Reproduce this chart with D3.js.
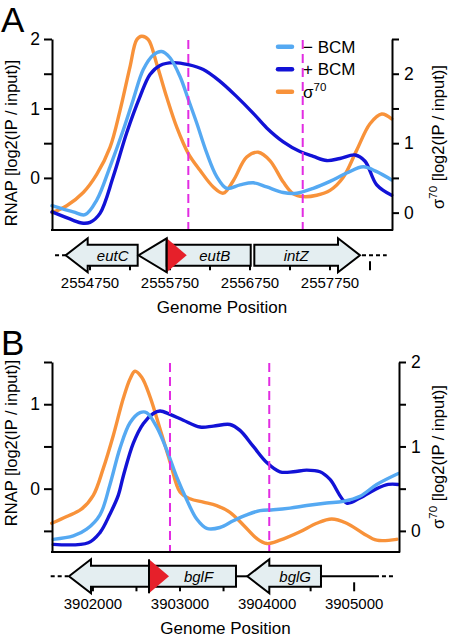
<!DOCTYPE html>
<html><head><meta charset="utf-8">
<script src="https://cdn.jsdelivr.net/npm/d3@7"></script>
<style>
body{margin:0;background:#fff}
svg{display:block;font-family:"Liberation Sans",Arial,Helvetica,sans-serif}
</style>
</head><body>
<svg id="c" width="453" height="642"></svg>
<script>
// ---------- Panel A data (genome position, log2 ratio) ----------
const aPosMinus = [2554275,2554541,2554688,2554834,2555000,2555166,2555291,2555416,2555541,2555646,2555750,2555875,2555979,2556084,2556209,2556334,2556459,2556625,2556791,2556959,2557166,2557334,2557541,2557750,2557959,2558166,2558334,2558521];
const aMinusBCM = [-0.40,-0.49,-0.53,-0.32,0.16,0.69,1.13,1.56,1.77,1.82,1.73,1.46,1.13,0.79,0.36,0.02,-0.15,-0.10,-0.07,-0.13,-0.21,-0.22,-0.15,-0.05,0.07,0.16,0.09,-0.03];
const aPosPlus = [2554275,2554541,2554646,2554750,2554875,2555041,2555209,2555375,2555500,2555625,2555791,2555979,2556166,2556375,2556584,2556791,2556959,2557166,2557375,2557541,2557709,2557875,2558063,2558188,2558334,2558521];
const aPlusBCM = [-0.49,-0.61,-0.65,-0.64,-0.51,0.02,0.65,1.17,1.49,1.62,1.66,1.63,1.56,1.39,1.17,0.93,0.72,0.52,0.38,0.31,0.25,0.28,0.33,0.24,-0.10,-0.25];
const aPosSigma = [2554275,2554459,2554666,2554834,2555000,2555125,2555250,2555334,2555396,2555479,2555584,2555709,2555834,2555979,2556125,2556291,2556416,2556541,2556709,2556854,2556999,2557166,2557291,2557416,2557584,2557750,2557916,2558084,2558250,2558396,2558521];
const aSigma70 = [0.00,0.10,0.29,0.55,0.94,1.47,2.10,2.49,2.54,2.49,2.14,1.66,1.23,0.85,0.61,0.37,0.28,0.46,0.80,0.87,0.75,0.44,0.27,0.23,0.25,0.32,0.51,0.90,1.28,1.42,1.35];
const aMarkers = [2555979, 2557409];
const aTickLabels = [2554750, 2555750, 2556750, 2557750];
const aTicks = [2554750,2555250,2555750,2556250,2556750,2557250,2557750,2558250];
const aGenes = [
  {name:"eutC", start:2554446, end:2555346, dir:-1},
  {name:"",     start:2555356, end:2555709, dir:-1},
  {name:"eutB", start:2555709, end:2556759, dir:0},
  {name:"intZ", start:2556804, end:2558125, dir:1}
];
const aPromoters = [2555709];
const aSolid = [];
const aDotted = [[2554313,2554459],[2558150,2558459]];

// ---------- Panel B data ----------
const bPosMinus = [3901545,3901775,3901928,3902081,3902196,3902311,3902426,3902541,3902618,3902732,3902847,3902962,3903077,3903192,3903307,3903459,3903612,3903766,3903919,3904071,3904263,3904455,3904685,3904875,3905067,3905259,3905507];
const bMinusBCM = [-0.60,-0.56,-0.48,-0.31,0.05,0.48,0.78,0.90,0.90,0.73,0.46,0.14,-0.13,-0.36,-0.47,-0.46,-0.38,-0.31,-0.26,-0.25,-0.23,-0.20,-0.17,-0.15,-0.09,0.05,0.18];
const bPosPlus = [3901545,3901947,3902081,3902196,3902291,3902349,3902464,3902578,3902693,3902770,3902885,3903038,3903230,3903382,3903574,3903689,3903842,3903996,3904148,3904301,3904455,3904608,3904723,3904914,3905067,3905259,3905392,3905507];
const bPlusBCM = [-0.66,-0.64,-0.52,-0.30,-0.08,0.15,0.54,0.77,0.89,0.92,0.88,0.81,0.73,0.74,0.76,0.69,0.50,0.31,0.20,0.20,0.22,0.20,0.11,-0.17,-0.11,0.00,0.05,0.05];
const bPosSigma = [3901527,3901699,3901871,3902004,3902119,3902234,3902349,3902426,3902483,3902560,3902655,3902770,3902885,3903000,3903115,3903268,3903421,3903574,3903727,3903881,3903996,3904148,3904378,3904570,3904742,3904914,3905105,3905259,3905489];
const bSigma70 = [0.09,0.17,0.26,0.42,0.74,1.13,1.57,1.80,1.89,1.82,1.59,1.21,0.82,0.46,0.38,0.34,0.30,0.22,0.07,-0.09,-0.15,-0.11,-0.01,0.09,0.14,0.09,-0.03,-0.11,-0.10];
const bMarkers = [3902885, 3904025];
const bTickLabels = [3902000, 3903000, 3904000, 3905000];
const bTicks = [3902000,3902500,3903000,3903500,3904000,3904500,3905000];
const bGenes = [
  {name:"",     start:3901725, end:3902644, dir:-1},
  {name:"bglF", start:3902644, end:3903643, dir:0},
  {name:"bglG", start:3903773, end:3904619, dir:-1}
];
const bPromoters = [3902644];
const bSolid = [[3903643,3903773],[3904619,3905239]];
const bDotted = [[3901515,3901717],[3905239,3905446]];

const leftTicksA = [0,0.5,1,1.5,2], rightTicksA = [0,0.5,1,1.5,2,2.5];
const leftTicksB = [-0.5,0,0.5,1,1.5], rightTicksB = [0,0.5,1,1.5,2];
const legendLabels = ["\u2212 BCM", "+ BCM", "σ"];

// ---------- styles ----------
const COL = {minus:"#55a9f2", plus:"#1212d6", sigma:"#f8923a", marker:"#e22ce2",
             gene:"#e4eef1", prom:"#e6202a"};
const svg = d3.select("#c");

function panel(cfg) {
  const g = svg.append("g");
  const x = d3.scaleLinear().domain(cfg.xDomain).range([cfg.left, cfg.right]);
  const yL = d3.scaleLinear().domain(cfg.yLDomain).range([cfg.bottom, cfg.top]);
  const yR = d3.scaleLinear().domain(cfg.yRDomain).range([cfg.bottom, cfg.top]);

  g.append("text").attr("x", 1).attr("y", cfg.top - 7).attr("font-size", 35).text(cfg.letter);

  const mk = yS => d3.line().x(d => x(d[0])).y(d => yS(d[1])).curve(d3.curveCatmullRom.alpha(0.5));
  const series = [
    {pos: cfg.posSigma, val: cfg.sigma, y: yR, c: COL.sigma},
    {pos: cfg.posPlus, val: cfg.plus, y: yL, c: COL.plus},
    {pos: cfg.posMinus, val: cfg.minus, y: yL, c: COL.minus}
  ];
  series.forEach(s => {
    const pts = s.pos.map((p, i) => [p, s.val[i]]);
    g.append("path").attr("d", mk(s.y)(pts)).attr("fill", "none")
      .attr("stroke", s.c).attr("stroke-width", 3.4).attr("stroke-linejoin", "round").attr("stroke-linecap", "round");
  });

  cfg.markers.forEach(m => {
    g.append("line").attr("x1", x(m)).attr("x2", x(m)).attr("y1", cfg.top + 1).attr("y2", cfg.bottom)
      .attr("stroke", COL.marker).attr("stroke-width", 2).attr("stroke-dasharray", "9,5");
  });

  const fmt = d => Number.isInteger(d) ? d3.format("d")(d) : "";
  const axL = g.append("g").attr("transform", `translate(${cfg.left},0)`)
    .call(d3.axisLeft(yL).tickValues(cfg.leftTicks).tickSize(8).tickSizeOuter(0).tickPadding(4).tickFormat(fmt));
  const axR = g.append("g").attr("transform", `translate(${cfg.right},0)`)
    .call(d3.axisRight(yR).tickValues(cfg.rightTicks).tickSize(7).tickSizeOuter(0).tickPadding(5).tickFormat(fmt));
  [axL, axR].forEach(a => {
    a.selectAll("path,line").attr("stroke", "#000").attr("stroke-width", 2);
    a.selectAll("text").attr("font-size", 17.5).attr("font-family", "Liberation Sans, Arial, sans-serif").attr("fill", "#000");
  });
  g.append("line").attr("x1", cfg.left - 1).attr("x2", cfg.right + 1).attr("y1", cfg.bottom).attr("y2", cfg.bottom)
    .attr("stroke", "#000").attr("stroke-width", 2);

  g.append("text").attr("transform", `translate(16.5,${cfg.lTitleY}) rotate(-90)`).attr("text-anchor", "middle")
    .attr("font-size", 16.5).text("RNAP [log2(IP / input)]");
  const rt = g.append("text").attr("transform", `translate(444,${cfg.rTitleY}) rotate(-90)`).attr("text-anchor", "middle")
    .attr("font-size", 16.5);
  rt.append("tspan").text("σ");
  rt.append("tspan").attr("font-size", 11.5).attr("dy", -7).text("70");
  rt.append("tspan").attr("dy", 7).text(" [log2(IP / input)]");

  const cy = cfg.geneY, bh = 10.5, hh = 17, headPx = 22;
  cfg.ticks.forEach(t => {
    g.append("line").attr("x1", x(t)).attr("x2", x(t)).attr("y1", cy + 6).attr("y2", cy + 15)
      .attr("stroke", "#000").attr("stroke-width", 2);
  });
  cfg.tickLabels.forEach(t => {
    g.append("text").attr("x", x(t)).attr("y", cy + 33).attr("text-anchor", "middle").attr("font-size", 15).text(t);
  });
  g.append("text").attr("x", (cfg.left + cfg.right) / 2).attr("y", cy + 58).attr("text-anchor", "middle")
    .attr("font-size", 17).text("Genome Position");

  cfg.solid.forEach(s => g.append("line").attr("x1", x(s[0])).attr("x2", x(s[1])).attr("y1", cy).attr("y2", cy)
    .attr("stroke", "#000").attr("stroke-width", 2));
  cfg.dotted.forEach(s => g.append("line").attr("x1", x(s[0])).attr("x2", x(s[1])).attr("y1", cy).attr("y2", cy)
    .attr("stroke", "#000").attr("stroke-width", 2).attr("stroke-dasharray", "4,3"));

  cfg.genes.forEach(gn => {
    const x0 = x(gn.start), x1 = x(gn.end), len = x1 - x0;
    const hl = len < 35 ? len : headPx;
    let pts;
    if (gn.dir === -1) {
      pts = [[x0, cy], [x0 + hl, cy - hh], [x0 + hl, cy - bh], [x1, cy - bh], [x1, cy + bh], [x0 + hl, cy + bh], [x0 + hl, cy + hh]];
    } else if (gn.dir === 1) {
      pts = [[x0, cy - bh], [x1 - hl, cy - bh], [x1 - hl, cy - hh], [x1, cy], [x1 - hl, cy + hh], [x1 - hl, cy + bh], [x0, cy + bh]];
    } else {
      pts = [[x0, cy - bh], [x1, cy - bh], [x1, cy + bh], [x0, cy + bh]];
    }
    g.append("polygon").attr("points", pts.map(p => p.join(",")).join(" "))
      .attr("fill", COL.gene).attr("stroke", "#000").attr("stroke-width", 2).attr("stroke-linejoin", "miter");
    if (gn.name) {
      let lx;
      if (gn.dir === -1) lx = (x0 + hl + x1) / 2;
      else if (gn.dir === 1) lx = (x0 + x1 - hl) / 2;
      else lx = (x0 + x1) / 2 + 6;
      g.append("text").attr("x", lx).attr("y", cy + 5.5).attr("text-anchor", "middle")
        .attr("font-size", 15).attr("font-style", "italic").text(gn.name);
    }
  });
  cfg.promoters.forEach(p => {
    const px = x(p);
    g.append("polygon").attr("points", `${px},${cy - hh} ${px + 20},${cy} ${px},${cy + hh}`).attr("fill", COL.prom);
    g.append("line").attr("x1", px).attr("x2", px).attr("y1", cy - hh).attr("y2", cy + hh)
      .attr("stroke", "#000").attr("stroke-width", 2);
  });

  if (cfg.legend) {
    const cols = [COL.minus, COL.plus, COL.sigma];
    const ys = [46.7, 69.3, 91.7];
    legendLabels.forEach((lab, i) => {
      g.append("line").attr("x1", 278).attr("x2", 292).attr("y1", ys[i]).attr("y2", ys[i])
        .attr("stroke", cols[i]).attr("stroke-width", 4.5).attr("stroke-linecap", "round");
      const t = g.append("text").attr("x", 303).attr("y", ys[i] + 6).attr("font-size", 17);
      t.append("tspan").text(lab);
      if (i === 2) t.append("tspan").attr("font-size", 11.5).attr("dy", -7).text("70");
    });
  }
}

panel({letter:"A", left:52, right:392, top:39, bottom:230,
  xDomain:[2554275, 2558525], yLDomain:[-0.75, 2], yRDomain:[-0.25, 2.5],
  leftTicks:leftTicksA, rightTicks:rightTicksA,
  posMinus:aPosMinus, minus:aMinusBCM, posPlus:aPosPlus, plus:aPlusBCM, posSigma:aPosSigma, sigma:aSigma70,
  markers:aMarkers, ticks:aTicks, tickLabels:aTickLabels, genes:aGenes, promoters:aPromoters,
  solid:aSolid, dotted:aDotted, geneY:255.3, lTitleY:143, rTitleY:137, legend:true});

panel({letter:"B", left:52, right:399, top:362, bottom:552,
  xDomain:[3901530, 3905515], yLDomain:[-0.75, 1.5], yRDomain:[-0.25, 2],
  leftTicks:leftTicksB, rightTicks:rightTicksB,
  posMinus:bPosMinus, minus:bMinusBCM, posPlus:bPosPlus, plus:bPlusBCM, posSigma:bPosSigma, sigma:bSigma70,
  markers:bMarkers, ticks:bTicks, tickLabels:bTickLabels, genes:bGenes, promoters:bPromoters,
  solid:bSolid, dotted:bDotted, geneY:576.3, lTitleY:443, rTitleY:457, legend:false});
</script>
</body></html>
